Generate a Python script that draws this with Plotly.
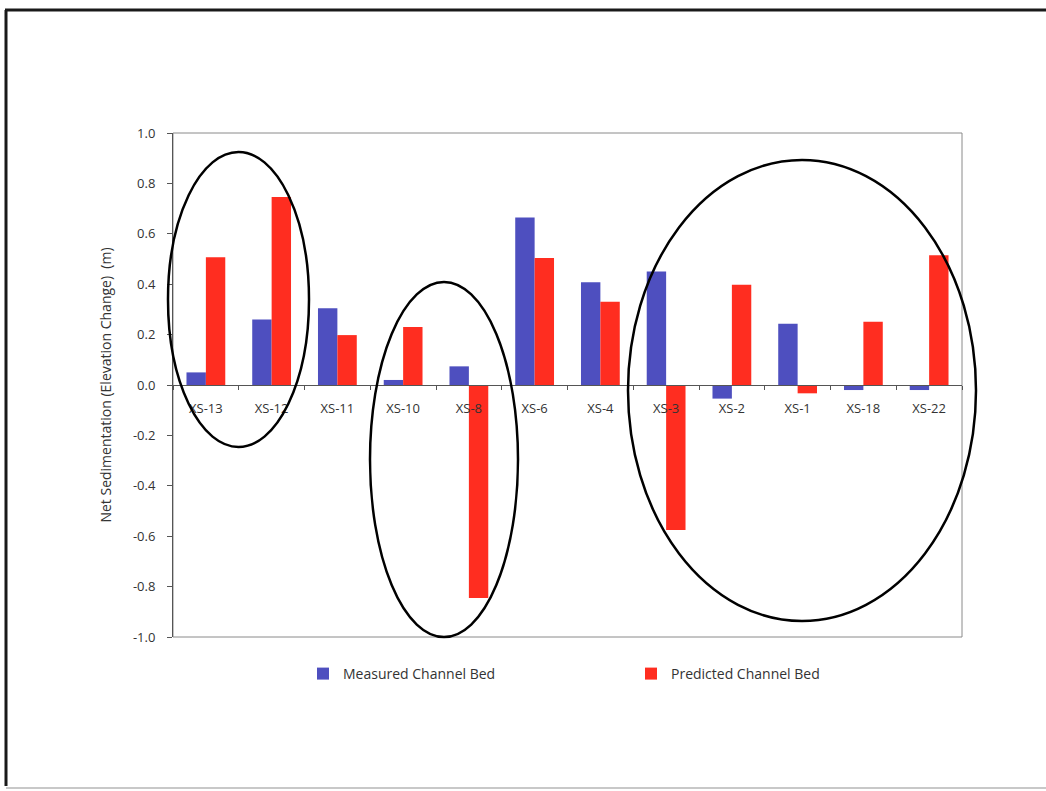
import plotly.graph_objects as go

categories = ["XS-13", "XS-12", "XS-11", "XS-10", "XS-8", "XS-6", "XS-4", "XS-3",
              "XS-2", "XS-1", "XS-18", "XS-22"]
measured = [0.05, 0.26, 0.305, 0.02, 0.074, 0.665, 0.408, 0.45, -0.054, 0.243, -0.02, -0.02]
predicted = [0.507, 0.746, 0.198, 0.23, -0.845, 0.504, 0.33, -0.575, 0.398, -0.033, 0.251, 0.515]
y_ticks = [1.0, 0.8, 0.6, 0.4, 0.2, 0.0, -0.2, -0.4, -0.6, -0.8, -1.0]

FONT = "'Open Sans', Lato, sans-serif"

fig = go.Figure()
fig.add_trace(go.Bar(x=categories, y=measured, name="Measured Channel Bed",
                     marker=dict(color="#4E4FBF", line=dict(width=0))))
fig.add_trace(go.Bar(x=categories, y=predicted, name="Predicted Channel Bed",
                     marker=dict(color="#FF2D20", line=dict(width=0))))

W, H = 1046, 791
L, R, T, B = 173, 962, 133, 637
pw, ph = R - L, B - T

def px(x):
    return (x - L) / pw

def py(y):
    return (B - y) / ph

shapes = []
# plot area border
shapes.append(dict(type="rect", xref="paper", yref="paper", x0=0, x1=1, y0=0, y1=1,
                   line=dict(color="#8a8a8a", width=1), layer="below"))
# hand-drawn ellipses
for (x0, x1, y0, y1) in [(168, 309, 152, 447), (370, 518, 282, 637), (628, 976, 160, 621)]:
    shapes.append(dict(type="circle", xref="paper", yref="paper",
                       x0=px(x0), x1=px(x1), y0=py(y1), y1=py(y0),
                       line=dict(color="black", width=2.5)))
# page frame lines
shapes.append(dict(type="line", xref="paper", yref="paper", x0=px(5), x1=px(1046),
                   y0=py(10), y1=py(10), line=dict(color="#1a1a1a", width=3)))
shapes.append(dict(type="line", xref="paper", yref="paper", x0=px(6), x1=px(6),
                   y0=py(10), y1=py(786), line=dict(color="#1a1a1a", width=3)))
shapes.append(dict(type="line", xref="paper", yref="paper", x0=px(6), x1=px(1046),
                   y0=py(788), y1=py(788), line=dict(color="#c8c8c8", width=2)))

fig.update_layout(
    width=W, height=H,
    margin=dict(l=L, r=W - R, t=T, b=H - B, pad=0),
    paper_bgcolor="white", plot_bgcolor="white",
    barmode="group", bargap=0.41, bargroupgap=0,
    font=dict(family=FONT, size=13, color="#333333"),
    showlegend=True,
    legend=dict(orientation="h", x=px(303), y=py(658), xanchor="left", yanchor="top",
                entrywidth=283, entrywidthmode="pixels",
                font=dict(family=FONT, size=14, color="#333333"),
                itemsizing="constant", bgcolor="rgba(0,0,0,0)"),
    shapes=shapes,
)

fig.update_xaxes(
    type="category", anchor="free", position=0.5,
    showline=True, linecolor="#555555", linewidth=1,
    ticks="outside", tickson="boundaries", ticklen=4, tickcolor="#555555",
    ticklabelstandoff=11,
    showgrid=False, zeroline=False,
    tickfont=dict(family=FONT, size=13, color="#333333"),
)
fig.update_yaxes(
    range=[-1, 1], tickvals=y_ticks, ticktext=[f"{v:.1f}" for v in y_ticks],
    showline=True, linecolor="#555555", linewidth=1,
    ticks="outside", ticklen=5, tickcolor="#555555",
    ticklabelstandoff=9,
    showgrid=False, zeroline=False,
    tickfont=dict(family=FONT, size=13, color="#333333"),
    title=dict(text="Net Sedimentation (Elevation Change)  (m)", standoff=18,
               font=dict(family=FONT, size=14, color="#333333")),
)

fig.write_html("out.html", config={"displayModeBar": False},
               post_script="document.body.style.margin='0';")
